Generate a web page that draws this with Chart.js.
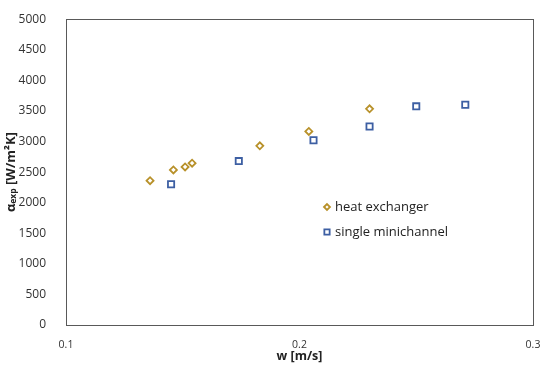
<!DOCTYPE html>
<html>
<head>
<meta charset="utf-8">
<script src="https://cdn.jsdelivr.net/npm/chart.js@4/dist/chart.umd.min.js"></script>
<style>
html,body{margin:0;padding:0;background:#fff;}
#wrap{width:550px;height:368px;position:relative;}
</style>
</head>
<body>
<div id="wrap"><canvas id="c" width="550" height="368"></canvas></div>
<script>
const seriesNames = ['heat exchanger', 'single minichannel'];
const hxW = [0.136, 0.146, 0.151, 0.154, 0.183, 0.204, 0.230];
const hxAlpha = [2360, 2535, 2585, 2645, 2930, 3165, 3535];
const smW = [0.145, 0.174, 0.206, 0.230, 0.250, 0.271];
const smAlpha = [2300, 2680, 3020, 3245, 3575, 3600];
const xTicks = [0.1, 0.2, 0.3];
const yTicks = [0, 500, 1000, 1500, 2000, 2500, 3000, 3500, 4000, 4500, 5000];
const xTitle = 'w [m/s]';

const toPts = (xs, ys) => xs.map((x, i) => ({x: x, y: ys[i]}));
const FONT = "'Open Sans', 'Liberation Sans', sans-serif";

const deco = {
  id: 'deco',
  afterDraw(chart) {
    const ctx = chart.ctx, a = chart.chartArea;
    ctx.save();
    ctx.strokeStyle = '#595959';
    ctx.lineWidth = 1;
    ctx.strokeRect(Math.round(a.left) + 0.5, Math.round(a.top) + 0.5, Math.round(a.right - a.left), Math.round(a.bottom - a.top));
    ctx.fillStyle = '#222';
    ctx.font = "bold 12.5px " + FONT;
    ctx.textAlign = 'center';
    ctx.textBaseline = 'middle';
    ctx.fillText(xTitle, (a.left + a.right) / 2, 356);
    ctx.translate(11, (a.top + a.bottom) / 2);
    ctx.rotate(-Math.PI / 2);
    const p1 = 'α', p2 = 'exp', p3 = ' [W/m²K]';
    const f1 = "bold 13px " + FONT, f2 = "bold 8.5px " + FONT;
    ctx.font = f1; const w1 = ctx.measureText(p1).width, w3 = ctx.measureText(p3).width;
    ctx.font = f2; const w2 = ctx.measureText(p2).width;
    let x = -(w1 + w2 + w3) / 2;
    ctx.textAlign = 'left';
    ctx.font = f1; ctx.fillText(p1, x, 0); x += w1;
    ctx.font = f2; ctx.fillText(p2, x, 3); x += w2;
    ctx.font = f1; ctx.fillText(p3, x, 0);
    ctx.restore();
    ctx.save();
    const lx = 327, ly = [207, 232];
    chart.data.datasets.forEach((ds, i) => {
      ctx.save();
      ctx.strokeStyle = ds.borderColor;
      ctx.fillStyle = '#fff';
      ctx.lineWidth = ds.borderWidth;
      Chart.helpers.drawPoint(ctx, {pointStyle: ds.pointStyle, radius: ds.pointRadius * 0.85, borderWidth: ds.borderWidth, rotation: 0}, lx, ly[i]);
      ctx.restore();
      ctx.fillStyle = '#222';
      ctx.font = "13px " + FONT;
      ctx.textAlign = 'left';
      ctx.textBaseline = 'middle';
      ctx.fillText(ds.label, lx + 8, ly[i]);
    });
    ctx.restore();
  }
};

new Chart(document.getElementById('c'), {
  type: 'scatter',
  data: {
    datasets: [
      {label: seriesNames[0], data: toPts(hxW, hxAlpha), pointStyle: 'rectRot', pointRadius: 3.5, pointHoverRadius: 3.5,
       borderColor: '#B8912A', backgroundColor: '#fff', borderWidth: 1.8},
      {label: seriesNames[1], data: toPts(smW, smAlpha), pointStyle: 'rect', pointRadius: 4.4, pointHoverRadius: 4.4,
       borderColor: '#3D5FA3', backgroundColor: '#fff', borderWidth: 1.8}
    ]
  },
  plugins: [deco],
  options: {
    responsive: false,
    animation: false,
    layout: {padding: {top: 15, right: 17, left: 0, bottom: 0}},
    plugins: {legend: {display: false}, tooltip: {enabled: false}},
    scales: {
      x: {
        type: 'linear', min: 0.1, max: 0.3,
        afterBuildTicks(s) { s.ticks = xTicks.map(v => ({value: v})); },
        afterFit(s) { s.height = 43; },
        grid: {display: false},
        border: {display: true, color: '#888'},
        ticks: {color: '#333', font: {size: 10.5, family: FONT}, padding: 6,
                callback: v => String(Math.round(v * 10) / 10)}
      },
      y: {
        type: 'linear', min: 0, max: 5000,
        afterBuildTicks(s) { s.ticks = yTicks.map(v => ({value: v})); },
        afterFit(s) { s.width = 66; },
        grid: {display: false},
        border: {display: true, color: '#888'},
        ticks: {color: '#333', font: {size: 12, family: FONT}, padding: 12,
                callback: v => String(v)}
      }
    }
  }
});
</script>
</body>
</html>
